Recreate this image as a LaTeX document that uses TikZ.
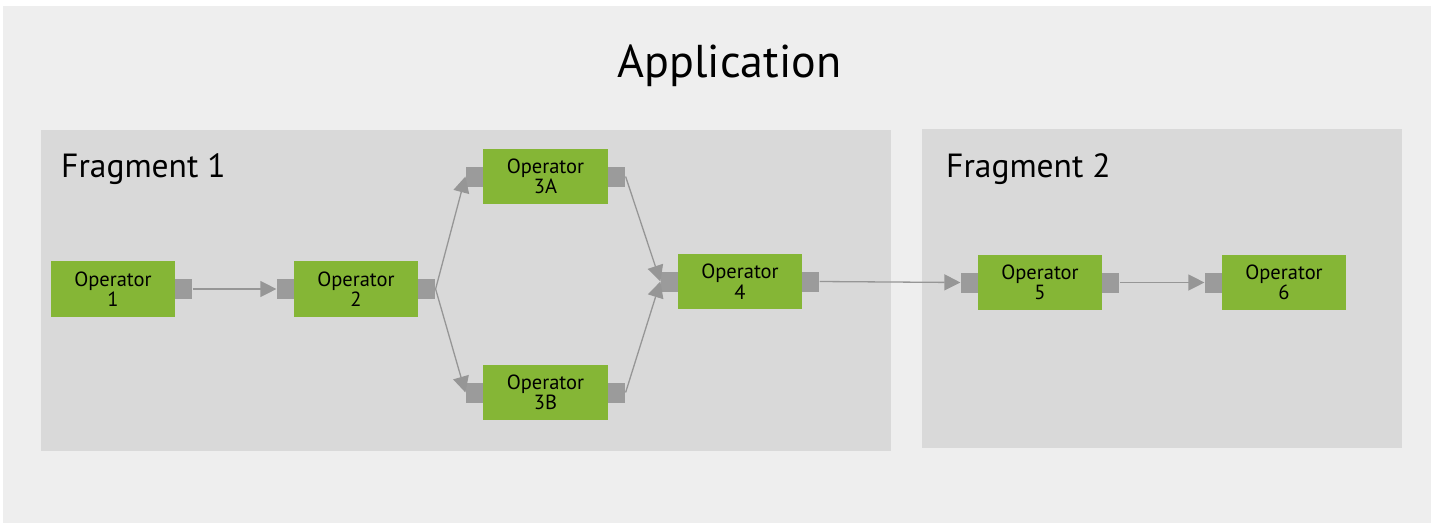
\documentclass[tikz,border=0pt]{standalone}
\usepackage{fontspec}
\setmainfont{PT Sans}
\usetikzlibrary{arrows.meta}
\definecolor{appbg}{RGB}{238,238,238}
\definecolor{fragbg}{RGB}{217,217,217}
\definecolor{opgreen}{RGB}{133,182,54}
\definecolor{portgray}{RGB}{155,155,155}
\definecolor{linegray}{RGB}{150,150,150}
\tikzset{
  opbox/.style={rectangle, fill=opgreen, draw=none, minimum width=124pt, minimum height=56pt,
    inner sep=0pt, align=center, font=\fontsize{20.5}{20.5}\selectfont},
  portbox/.style={rectangle, fill=portgray, draw=none, minimum width=17pt, minimum height=20pt, inner sep=0pt},
  flow/.style={draw=linegray, line width=1.3pt, -{Triangle[length=16pt,width=16pt]}, shorten >=0pt},
  fragtitle/.style={anchor=base west, inner sep=0pt, font=\fontsize{33.5}{40}\selectfont},
}
\begin{document}
\begin{tikzpicture}[x=1pt,y=-1pt]
\useasboundingbox (0,0) rectangle (1435,531);
\fill[white] (0,0) rectangle (1435,531);
\fill[appbg] (3,6) rectangle (1431,523);
\fill[fragbg] (41,130) rectangle (891,451);
\fill[fragbg] (922,129) rectangle (1402,448);
\node[anchor=base, inner sep=0pt, font=\fontsize{46}{50}\selectfont] (title) at (729.5,77) {Application};
\node[fragtitle] (f1) at (61,177) {Fragment 1};
\node[fragtitle] (f2) at (946,177) {Fragment 2};
% operators
\node[opbox] (o1) at (113,289) {Operator\\1};
\node[opbox] (o2) at (356,289) {Operator\\2};
\node[opbox, minimum width=125pt, minimum height=55pt] (o3a) at (545.5,176.5) {Operator\\3A};
\node[opbox, minimum width=125pt, minimum height=55pt] (o3b) at (545.5,392.5) {Operator\\3B};
\node[opbox, minimum height=55pt] (o4) at (740,281.5) {Operator\\4};
\node[opbox, minimum height=55pt] (o5) at (1040,282.5) {Operator\\5};
\node[opbox, minimum height=55pt] (o6) at (1284,282.5) {Operator\\6};
% ports
\node[portbox, anchor=west] (o1out) at (o1.east) {};
\node[portbox, anchor=east] (o2in) at (o2.west) {};
\node[portbox, anchor=west] (o2out) at (o2.east) {};
\node[portbox, anchor=east] (o3ain) at (o3a.west) {};
\node[portbox, anchor=west] (o3aout) at (o3a.east) {};
\node[portbox, anchor=east] (o3bin) at (o3b.west) {};
\node[portbox, anchor=west] (o3bout) at (o3b.east) {};
\node[portbox, anchor=east] (o4in) at (o4.west) {};
\node[portbox, anchor=west] (o4out) at (o4.east) {};
\node[portbox, anchor=east] (o5in) at (o5.west) {};
\node[portbox, anchor=west] (o5out) at (o5.east) {};
\node[portbox, anchor=east] (o6in) at (o6.west) {};
% connectors
\draw[flow] (o1out.east) -- (o2in.west);
\draw[flow] (o2out.east) -- (o3ain.west);
\draw[flow] (o2out.east) -- (o3bin.west);
\draw[flow] (o3aout.east) -- (o4in.west);
\draw[flow] (o3bout.east) -- (o4in.west);
\draw[flow] (o4out.east) -- (o5in.west);
\draw[flow] (o5out.east) -- (o6in.west);
\end{tikzpicture}
\end{document}
